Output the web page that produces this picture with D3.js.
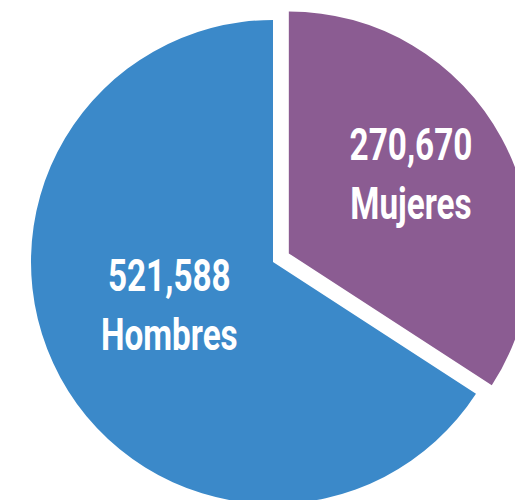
<!DOCTYPE html>
<html>
<head>
<meta charset="utf-8">
<script src="https://cdn.jsdelivr.net/npm/d3@7"></script>
<style>
  body { margin: 0; background: #fff; }
  svg text { font-family: Roboto, "Liberation Sans", sans-serif; font-weight: 700; fill: #fff; }
</style>
</head>
<body>
<script>
const labels = ["Mujeres", "Hombres"]; // slice names
const values = [270670, 521588]; // population
const colors = ["#8b5c92", "#3b89c9"];
const explode = [18, 0]; // px pulled out from centre

const width = 515, height = 500;
const cx = 273, cy = 262, radius = 242;

const svg = d3.select("body").append("svg")
  .attr("width", width)
  .attr("height", height);

const pie = d3.pie().sort(null).startAngle(0).endAngle(2 * Math.PI);
const arcs = pie(values);

const arc = d3.arc().innerRadius(0).outerRadius(radius);

const g = svg.append("g").attr("transform", "translate(" + cx + "," + cy + ")");

const fmt = d3.format(",");
const labelR = [139, 118];

const slice = g.selectAll("g.slice")
  .data(arcs)
  .enter()
  .append("g")
  .attr("class", "slice")
  .attr("transform", function(d, i) {
    const a = (d.startAngle + d.endAngle) / 2;
    return "translate(" + (Math.sin(a) * explode[i]) + "," + (-Math.cos(a) * explode[i]) + ")";
  });

slice.append("path")
  .attr("d", arc)
  .attr("fill", function(d, i) { return colors[i]; });

slice.each(function(d, i) {
  const a = (d.startAngle + d.endAngle) / 2;
  const x = Math.sin(a) * labelR[i], y = -Math.cos(a) * labelR[i];
  // condensed look: squeeze the text horizontally
  const t = d3.select(this).append("text")
    .attr("text-anchor", "middle")
    .attr("transform", "translate(" + x + "," + y + ") scale(0.74,1)")
    .style("font-size", "45px");
  t.append("tspan").attr("x", 0).attr("y", -27).text(fmt(values[i]));
  t.append("tspan").attr("x", 0).attr("y", 32).text(labels[i]);
});
</script>
</body>
</html>
